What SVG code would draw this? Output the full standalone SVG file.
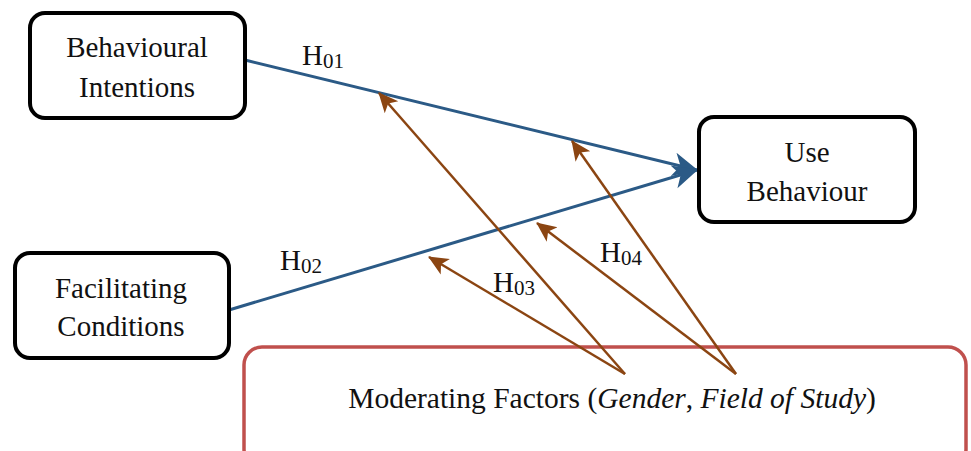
<svg xmlns="http://www.w3.org/2000/svg" width="971" height="451" viewBox="0 0 971 451">
<style>
.node{fill:#fff;stroke:#000;stroke-width:4}
.mod{fill:#fff;stroke:#C0504D;stroke-width:3.5}
text{font-family:'Liberation Serif','Times New Roman',serif;fill:#111}
.t{font-size:29px;text-anchor:middle}
.h{font-size:29px}
.sub{font-size:21px}
.blue{stroke:#2B5A86;stroke-width:3;fill:none}
.brown{stroke:#8B4512;stroke-width:2.5;fill:none}
</style>
<defs>
<marker id="ab" markerUnits="userSpaceOnUse" markerWidth="26" markerHeight="26" viewBox="0 0 26 26" refX="24" refY="13" orient="auto">
<path d="M0,1 L25,13 L0,25 L7,13 z" fill="#2B5A86"/>
</marker>
<marker id="ar" markerUnits="userSpaceOnUse" markerWidth="20" markerHeight="20" viewBox="0 0 20 20" refX="19" refY="10" orient="auto">
<path d="M0,1 L20,10 L0,19 L5,10 z" fill="#8B4512"/>
</marker>
</defs>
<g id="mf">
<rect class="mod" x="244" y="347" width="722" height="120" rx="18"/>
<text class="t" x="612" y="408" style="font-size:29.5px">Moderating Factors (<tspan font-style="italic">Gender</tspan>, <tspan font-style="italic">Field of Study</tspan>)</text>
</g>
<g id="connectors">
<line class="blue" x1="245" y1="60" x2="697" y2="170" marker-end="url(#ab)"/>
<line class="blue" x1="229" y1="310" x2="697" y2="170" marker-end="url(#ab)"/>
<line class="brown" x1="625" y1="374" x2="379" y2="93" marker-end="url(#ar)"/>
<line class="brown" x1="625" y1="374" x2="429" y2="257" marker-end="url(#ar)"/>
<line class="brown" x1="736" y1="374" x2="572" y2="141" marker-end="url(#ar)"/>
<line class="brown" x1="736" y1="374" x2="537" y2="223" marker-end="url(#ar)"/>
</g>
<g id="labels">
<text class="h" x="302" y="65">H<tspan class="sub" dy="3">01</tspan></text>
<text class="h" x="280" y="270">H<tspan class="sub" dy="3">02</tspan></text>
<text class="h" x="493" y="292">H<tspan class="sub" dy="3">03</tspan></text>
<text class="h" x="600" y="262">H<tspan class="sub" dy="3">04</tspan></text>
</g>
<g id="bi">
<rect class="node" x="30" y="13" width="215" height="105" rx="15"/>
<text class="t" x="137" y="57">Behavioural</text>
<text class="t" x="137" y="97">Intentions</text>
</g>
<g id="ub">
<rect class="node" x="699" y="117" width="216" height="105" rx="15"/>
<text class="t" x="807" y="162">Use</text>
<text class="t" x="807" y="201">Behaviour</text>
</g>
<g id="fc">
<rect class="node" x="15" y="253" width="214" height="105" rx="15"/>
<text class="t" x="121" y="298">Facilitating</text>
<text class="t" x="121" y="336">Conditions</text>
</g>
</svg>
